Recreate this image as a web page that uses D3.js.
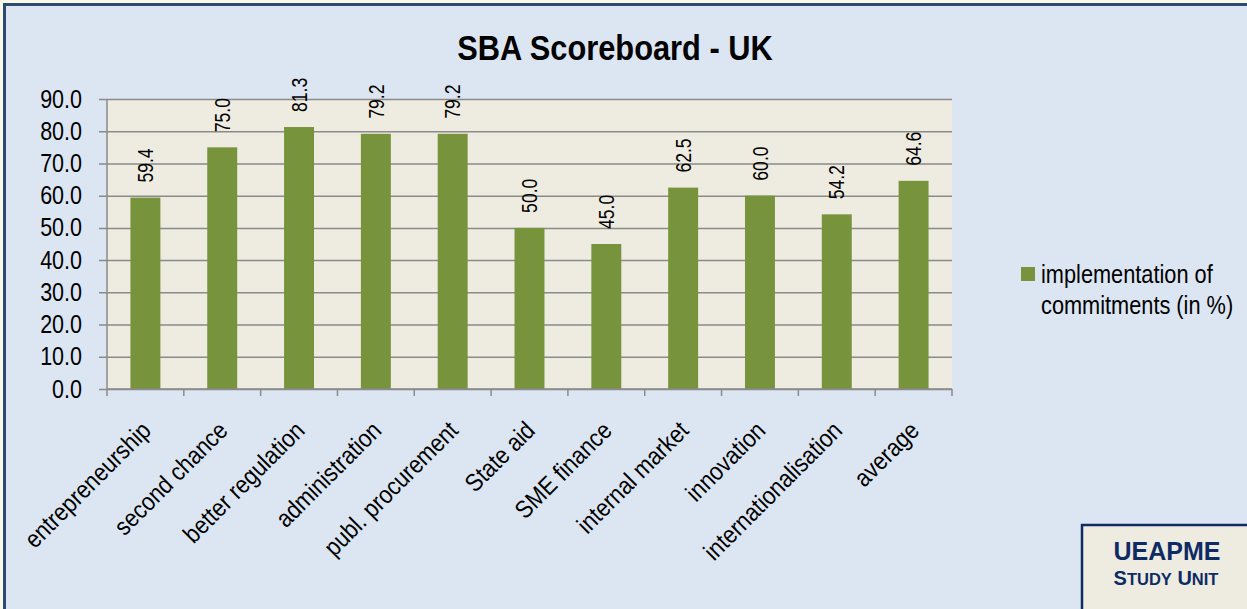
<!DOCTYPE html>
<html>
<head>
<meta charset="utf-8">
<script src="https://cdn.jsdelivr.net/npm/d3@7"></script>
<style>
  html, body { margin: 0; padding: 0; background: #fbf8e6; }
  svg { display: block; }
</style>
</head>
<body>
<div id="chart"></div>
<script>
// Data
const categories = ['entrepreneurship', 'second chance', 'better regulation', 'administration',
  'publ. procurement', 'State aid', 'SME finance', 'internal market', 'innovation',
  'internationalisation', 'average'];
const values = [59.4, 75.0, 81.3, 79.2, 79.2, 50.0, 45.0, 62.5, 60.0, 54.2, 64.6];
const yTicks = [0, 10, 20, 30, 40, 50, 60, 70, 80, 90];
const seriesName = ['implementation of', 'commitments (in %)'];
const title = 'SBA Scoreboard - UK';

const W = 1247, H = 609;
const plot = { left: 107, right: 952, top: 99, bottom: 389 };
const font = '"Liberation Sans", Arial, sans-serif';
const barColor = '#77933c';

// the original uses a condensed face: squeeze glyphs horizontally
function squeeze(sel, f) {
  sel.each(function () {
    const len = this.getComputedTextLength();
    this.setAttribute('textLength', len * f);
    this.setAttribute('lengthAdjust', 'spacingAndGlyphs');
  });
}

const svg = d3.select('#chart').append('svg')
  .attr('width', W)
  .attr('height', H);

// panel background and frame
svg.append('rect')
  .attr('x', 4.5).attr('y', 4.5)
  .attr('width', W).attr('height', H)
  .attr('fill', '#dce6f2')
  .attr('stroke', '#2c4a76')
  .attr('stroke-width', 3);

// title
svg.append('text')
  .attr('x', 615)
  .attr('y', 60)
  .attr('text-anchor', 'middle')
  .style('font-family', font)
  .style('font-weight', 'bold')
  .style('font-size', '35px')
  .text(title)
  .call(squeeze, 0.88);

const x = d3.scaleBand()
  .domain(categories)
  .range([plot.left, plot.right])
  .paddingInner(0.61)
  .paddingOuter(0.305);

const y = d3.scaleLinear()
  .domain([0, 90])
  .range([plot.bottom, plot.top]);

// plot area
svg.append('rect')
  .attr('x', plot.left).attr('y', plot.top)
  .attr('width', plot.right - plot.left)
  .attr('height', plot.bottom - plot.top)
  .attr('fill', '#eeece1');

// gridlines + y ticks
const yAxis = svg.append('g')
  .attr('transform', `translate(${plot.left},0)`)
  .call(d3.axisLeft(y).tickValues(yTicks).tickFormat(d3.format('.1f'))
    .tickSize(-(plot.right - plot.left)).tickPadding(25));
yAxis.select('.domain').remove();
yAxis.selectAll('line')
  .attr('x1', -8)
  .attr('stroke', '#8a8a8a')
  .attr('stroke-width', 1.5);
yAxis.selectAll('text')
  .attr('x', -25)
  .style('font-family', font)
  .style('font-size', '25px')
  .attr('fill', '#000')
  .call(squeeze, 0.86);

// y axis line
svg.append('line')
  .attr('x1', plot.left).attr('x2', plot.left)
  .attr('y1', plot.top).attr('y2', plot.bottom)
  .attr('stroke', '#8a8a8a').attr('stroke-width', 1.5);

// bars
svg.selectAll('.bar')
  .data(values)
  .join('rect')
  .attr('class', 'bar')
  .attr('x', (d, i) => x(categories[i]))
  .attr('y', d => y(d))
  .attr('width', x.bandwidth())
  .attr('height', d => y(0) - y(d))
  .attr('fill', barColor);

// x axis with boundary ticks
const step = x.step();
const boundaries = d3.range(categories.length + 1).map(i => plot.left + i * step);
svg.append('line')
  .attr('x1', plot.left).attr('x2', plot.right)
  .attr('y1', plot.bottom).attr('y2', plot.bottom)
  .attr('stroke', '#8a8a8a').attr('stroke-width', 1.5);
svg.selectAll('.xtick')
  .data(boundaries)
  .join('line')
  .attr('class', 'xtick')
  .attr('x1', d => d).attr('x2', d => d)
  .attr('y1', plot.bottom).attr('y2', plot.bottom + 7)
  .attr('stroke', '#8a8a8a').attr('stroke-width', 1.5);

// category labels
svg.selectAll('.cat')
  .data(categories)
  .join('text')
  .attr('class', 'cat')
  .attr('transform', d => `translate(${x(d) + x.bandwidth() / 2 + 7},${plot.bottom + 43}) rotate(-45)`)
  .attr('text-anchor', 'end')
  .style('font-family', font)
  .style('font-size', '25px')
  .text(d => d)
  .call(squeeze, 0.88);

// value labels
svg.selectAll('.val')
  .data(values)
  .join('text')
  .attr('class', 'val')
  .attr('transform', (d, i) => `translate(${x(categories[i]) + x.bandwidth() / 2},${y(d) - 15}) rotate(-90)`)
  .attr('dy', '0.35em')
  .style('font-family', font)
  .style('font-size', '22px')
  .text(d => d.toFixed(1))
  .call(squeeze, 0.8);

// legend
const legend = svg.append('g').attr('transform', 'translate(1021,267)');
legend.append('rect')
  .attr('width', 14).attr('height', 14)
  .attr('fill', barColor);
legend.selectAll('text')
  .data(seriesName)
  .join('text')
  .attr('x', 20)
  .attr('y', (d, i) => 16 + i * 31)
  .style('font-family', font)
  .style('font-size', '25px')
  .text(d => d)
  .call(squeeze, 0.87);

// UEAPME stamp
const stamp = svg.append('g');
stamp.append('rect')
  .attr('x', 1082).attr('y', 525)
  .attr('width', 200).attr('height', 120)
  .attr('fill', '#eeece1')
  .attr('stroke', '#0f2b64')
  .attr('stroke-width', 2.5);
stamp.append('text')
  .attr('x', 1167).attr('y', 560)
  .attr('text-anchor', 'middle')
  .style('font-family', font)
  .style('font-weight', 'bold')
  .style('font-size', '25px')
  .attr('fill', '#0f2b64')
  .text('UEAPME');
const su = stamp.append('text')
  .attr('x', 1166).attr('y', 585)
  .attr('text-anchor', 'middle')
  .style('font-family', font)
  .style('font-weight', 'bold')
  .attr('fill', '#0f2b64');
[['S', 20], ['TUDY', 16.5], [' U', 20], ['NIT', 16.5]].forEach(([t, s]) => {
  su.append('tspan').style('font-size', s + 'px').text(t);
});
</script>
</body>
</html>
